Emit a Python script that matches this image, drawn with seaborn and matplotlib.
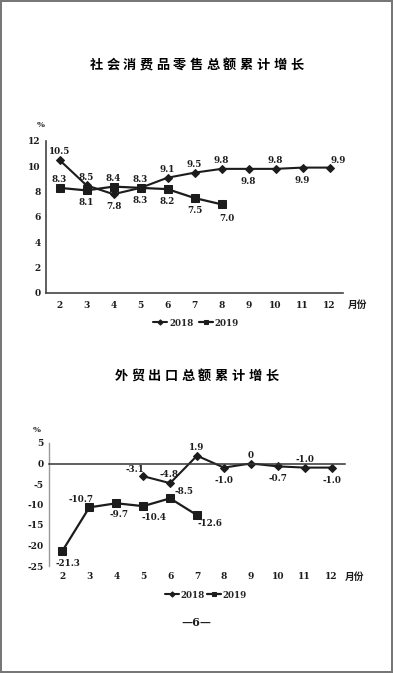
import numpy as np
import pandas as pd
import matplotlib
matplotlib.use('Agg')
import matplotlib.pyplot as plt
import seaborn as sns

months = list(range(2, 13))

# 社会消费品零售总额累计增长
retail_2018 = [10.5, 8.5, 7.8, 8.3, 9.1, 9.5, 9.8, 9.8, 9.8, 9.9, 9.9]
retail_2019 = [8.3, 8.1, 8.4, 8.3, 8.2, 7.5, 7.0]

# 外贸出口总额累计增长
export_months_2018 = list(range(5, 13))
export_2018 = [-3.1, -4.8, 1.9, -1.0, 0.0, -0.7, -1.0, -1.0]
export_2019 = [-21.3, -10.7, -9.7, -10.4, -8.5, -12.6]

title1 = '社会消费品零售总额累计增长'
title2 = '外贸出口总额累计增长'

# label offsets (points)
off_r18 = [(0, 6), (0, 6), (0, -9), (0, 6), (0, 6), (0, 6), (0, 6), (0, -9), (0, 6), (0, -9), (6, 5)]
off_r19 = [(0, 6), (0, -9), (0, 6), (0, -9), (0, -9), (0, -9), (4, -10)]
off_e18 = [(-6, 5), (-1, 6), (0, 6), (0, -9), (0, 6), (0, -9), (0, 6), (0, -9)]
off_e19 = [(4, -9), (-6, 6), (2, -8), (8, -8), (10, 5), (9, -6)]

sns.set_style('white')
plt.rcParams['font.family'] = ['DejaVu Serif', 'Noto Sans CJK SC', 'DejaVu Sans']
plt.rcParams['font.weight'] = 'bold'

ink = '#1c1c1c'
num_font = dict(family=['DejaVu Serif'], weight='bold', size=6.3, color=ink)
cjk = ['Noto Sans CJK SC', 'DejaVu Sans']

fig = plt.figure(figsize=(3.93, 6.73), dpi=100)
fig.patch.set_edgecolor('#777777')
fig.patch.set_linewidth(1.5)


def spaced_title(text, y):
    n = len(text)
    step = 16.7 / 393
    for i, ch in enumerate(text):
        fig.text(0.5 + (i - (n - 1) / 2) * step, y, ch, ha='center', va='center',
                 family=cjk, weight='bold', size=9.5, color='black')


def draw(ax, x18, y18, y19, o18, o19):
    d18 = pd.DataFrame({'month': x18, 'v': y18})
    d19 = pd.DataFrame({'month': months[:len(y19)], 'v': y19})
    sns.lineplot(data=d18, x='month', y='v', ax=ax, color=ink, lw=1.5,
                 marker='D', markersize=4.5, markeredgecolor=ink, label='2018')
    sns.lineplot(data=d19, x='month', y='v', ax=ax, color=ink, lw=1.6,
                 marker='s', markersize=6, markeredgecolor=ink, label='2019')
    for x, v, o in zip(d18['month'], d18['v'], o18):
        ax.annotate(f'{v:.1f}' if v != 0 else '0', (x, v), xytext=o,
                    textcoords='offset points', ha='center', va='center', **num_font)
    for x, v, o in zip(d19['month'], d19['v'], o19):
        ax.annotate(f'{v:.1f}', (x, v), xytext=o,
                    textcoords='offset points', ha='center', va='center', **num_font)
    ax.set_xlim(1.5, 12.5)
    ax.set_xticks(months)
    ax.set_xticks(np.arange(2.5, 13, 1), minor=True)
    ax.set_xlabel('')
    ax.set_ylabel('')
    for s in ['top', 'right']:
        ax.spines[s].set_visible(False)
    ax.tick_params(axis='y', direction='in', length=3, width=0.8, pad=4,
                   labelsize=6.5, colors=ink)
    ax.tick_params(axis='x', which='minor', direction='in', length=3, width=0.8, colors=ink)
    ax.tick_params(axis='x', which='major', length=0, labelsize=6.5, colors=ink)
    for lab in ax.get_xticklabels() + ax.get_yticklabels():
        lab.set_fontweight('bold')
    ax.get_legend().remove()


leg_prop = dict(family='DejaVu Serif', weight='bold', size=6.3)

# chart 1
spaced_title(title1, 1 - 65 / 673)
ax1 = fig.add_axes([46 / 393, 1 - 293 / 673, 297 / 393, 152 / 673])
draw(ax1, months, retail_2018, retail_2019, off_r18, off_r19)
ax1.set_ylim(0, 12)
ax1.set_yticks([0, 2, 4, 6, 8, 10, 12])
ax1.tick_params(axis='x', which='major', pad=6)
for s in ['left', 'bottom']:
    ax1.spines[s].set_color('#444444')
    ax1.spines[s].set_linewidth(1.2)
fig.text(41 / 393, 1 - 125 / 673, '%', ha='center', va='center', size=6, weight='bold', color=ink)
fig.text(358 / 393, 1 - 305 / 673, '月份', ha='center', va='center', family=cjk,
         weight='bold', size=7, color=ink)
h, l = ax1.get_legend_handles_labels()
fig.legend(h, l, loc='center', bbox_to_anchor=(196 / 393, 1 - 323 / 673), ncol=2,
           frameon=False, handlelength=1.6, handletextpad=0.2, columnspacing=0.6,
           prop=leg_prop, markerscale=0.6)

# chart 2
spaced_title(title2, 1 - 376 / 673)
ax2 = fig.add_axes([49 / 393, 1 - 566 / 673, 296 / 393, 123 / 673])
draw(ax2, export_months_2018, export_2018, export_2019, off_e18, off_e19)
ax2.set_ylim(-25, 5)
ax2.set_yticks([5, 0, -5, -10, -15, -20, -25])
ax2.set_yticklabels(['5', '0', '-5', '-10', '-15', '-20', '-25'])
for lab in ax2.get_yticklabels():
    lab.set_fontweight('bold')
ax2.spines['bottom'].set_position(('data', 0))
ax2.spines['bottom'].set_color('#333333')
ax2.spines['bottom'].set_linewidth(1.1)
ax2.spines['left'].set_color('#999999')
ax2.spines['left'].set_linewidth(1.0)
ax2.tick_params(axis='x', which='major', pad=78)
fig.text(37 / 393, 1 - 430 / 673, '%', ha='center', va='center', size=6, weight='bold', color=ink)
fig.text(355 / 393, 1 - 577 / 673, '月份', ha='center', va='center', family=cjk,
         weight='bold', size=7, color=ink)
h, l = ax2.get_legend_handles_labels()
fig.legend(h, l, loc='center', bbox_to_anchor=(206 / 393, 1 - 595 / 673), ncol=2,
           frameon=False, handlelength=1.6, handletextpad=0.2, columnspacing=0.2,
           prop=leg_prop, markerscale=0.6)

fig.text(196 / 393, 1 - 623 / 673, '—6—', ha='center', va='center', size=8,
         family=['DejaVu Serif'], color=ink)

fig.savefig('out.png', dpi=100, edgecolor=fig.get_edgecolor())
